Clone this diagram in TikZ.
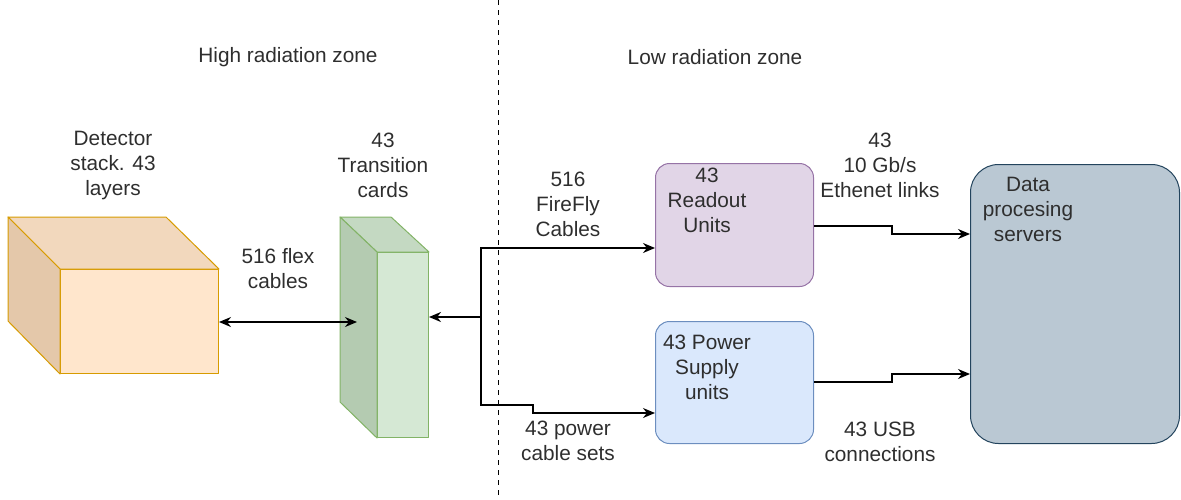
\documentclass[tikz,border=0pt]{standalone}
\usepackage{fontspec}
\setmainfont{Liberation Sans}
\usetikzlibrary{arrows.meta}
\definecolor{txt}{HTML}{2E2E2E}
\definecolor{detfront}{HTML}{FFE6CC}
\definecolor{dettop}{HTML}{F2D8BD}
\definecolor{detside}{HTML}{E4C8AA}
\definecolor{detline}{HTML}{D79B00}
\definecolor{cardfront}{HTML}{D5E8D4}
\definecolor{cardtop}{HTML}{C4D9C2}
\definecolor{cardside}{HTML}{B4CBB1}
\definecolor{cardline}{HTML}{82B366}
\definecolor{rofill}{HTML}{E1D5E7}
\definecolor{roline}{HTML}{9673A6}
\definecolor{psfill}{HTML}{DAE8FC}
\definecolor{psline}{HTML}{6C8EBF}
\definecolor{srvfill}{HTML}{BAC8D3}
\definecolor{srvline}{HTML}{23445D}
\tikzset{
  lbl/.style={text=txt, align=center, inner sep=0pt, font=\fontsize{20.8}{25}\selectfont},
  tip/.tip={Stealth[length=12pt,width=10pt]},
  conn/.style={draw=black, line width=1.3pt, -tip},
  unit/.style={draw, rounded corners=14pt, line width=1pt, anchor=north west, inner sep=0pt},
  face/.style={line width=1pt, line join=round},
}
\begin{document}
\begin{tikzpicture}[x=1pt,y=-1pt]
\useasboundingbox (0,0) rectangle (1181,499);

% zone separator
\coordinate (zt) at (498,0);
\coordinate (zb) at (498,499);
\draw[line width=1pt, dash pattern=on 5pt off 5pt] (zt) -- (zb);
\node[lbl] (hz) at (288,57) {High radiation zone};
\node[lbl] (lz) at (715,57) {Low radiation zone};

% detector stack (cube)
\node[face, draw=detline, fill=detfront, minimum width=158pt, minimum height=104pt,
      anchor=north west, inner sep=0pt] (det) at (60,269) {};
\filldraw[face, draw=detline, fill=dettop] (det.north west) -- ++(-52,-52) -- ++(158,0) -- (det.north east) -- cycle;
\filldraw[face, draw=detline, fill=detside] (det.north west) -- ++(-52,-52) -- ++(0,104) -- (det.south west) -- cycle;
\node[lbl] (detl) at (113,165) {Detector\\stack. 43\\layers};

% transition cards (slab)
\node[face, draw=cardline, fill=cardfront, minimum width=51pt, minimum height=185pt,
      anchor=north west, inner sep=0pt] (tc) at (377,252) {};
\filldraw[face, draw=cardline, fill=cardtop] (tc.north west) -- ++(-37,-35) -- ++(51,0) -- (tc.north east) -- cycle;
\filldraw[face, draw=cardline, fill=cardside] (tc.north west) -- ++(-37,-35) -- ++(0,185) -- (tc.south west) -- cycle;
\node[lbl] (tcl) at (383,165) {43\\Transition\\cards};

% flex cables
\coordinate (flexend) at (357,322);
\draw[conn, tip-tip] (det.east |- flexend) -- (flexend);
\node[lbl] (flexl) at (278,269) {516 flex\\cables};

% low radiation units
\node[unit, draw=roline, fill=rofill, minimum width=158pt, minimum height=123pt] (ro) at (655,163) {};
\node[lbl] (rol) at (707,200) {43\\Readout\\Units};
\node[unit, draw=psline, fill=psfill, minimum width=158pt, minimum height=122pt] (ps) at (655,321) {};
\node[lbl] (psl) at (707,367) {43 Power\\Supply\\units};
\node[unit, draw=srvline, fill=srvfill, rounded corners=28pt, minimum width=209pt, minimum height=279pt] (srv) at (970,164) {};
\node[lbl] (srvl) at (1028,209) {Data\\procesing\\servers};

% cable bundle split
\coordinate (jn) at (481,317);
\draw[line width=2pt, -tip] (jn) -- (tc.east |- jn);
\draw[conn] (jn) |- (ro.west |- 0,248);
\draw[conn] (jn) |- (533,405) -- (533,413) -- (ps.west |- 0,413);
\node[lbl] (ffl) at (568,204) {516\\FireFly\\Cables};
\node[lbl] (pcl) at (568,441) {43 power\\cable sets};

% links to the servers
\draw[conn] (ro.east |- 0,226) -- (892,226) -- (892,234) -- (srv.west |- 0,234);
\draw[conn] (ps.east |- 0,382) -- (892,382) -- (892,374) -- (srv.west |- 0,374);
\node[lbl] (ethl) at (880,165) {43\\10 Gb/s\\Ethenet links};
\node[lbl] (usbl) at (880,442) {43 USB\\connections};
\end{tikzpicture}
\end{document}
